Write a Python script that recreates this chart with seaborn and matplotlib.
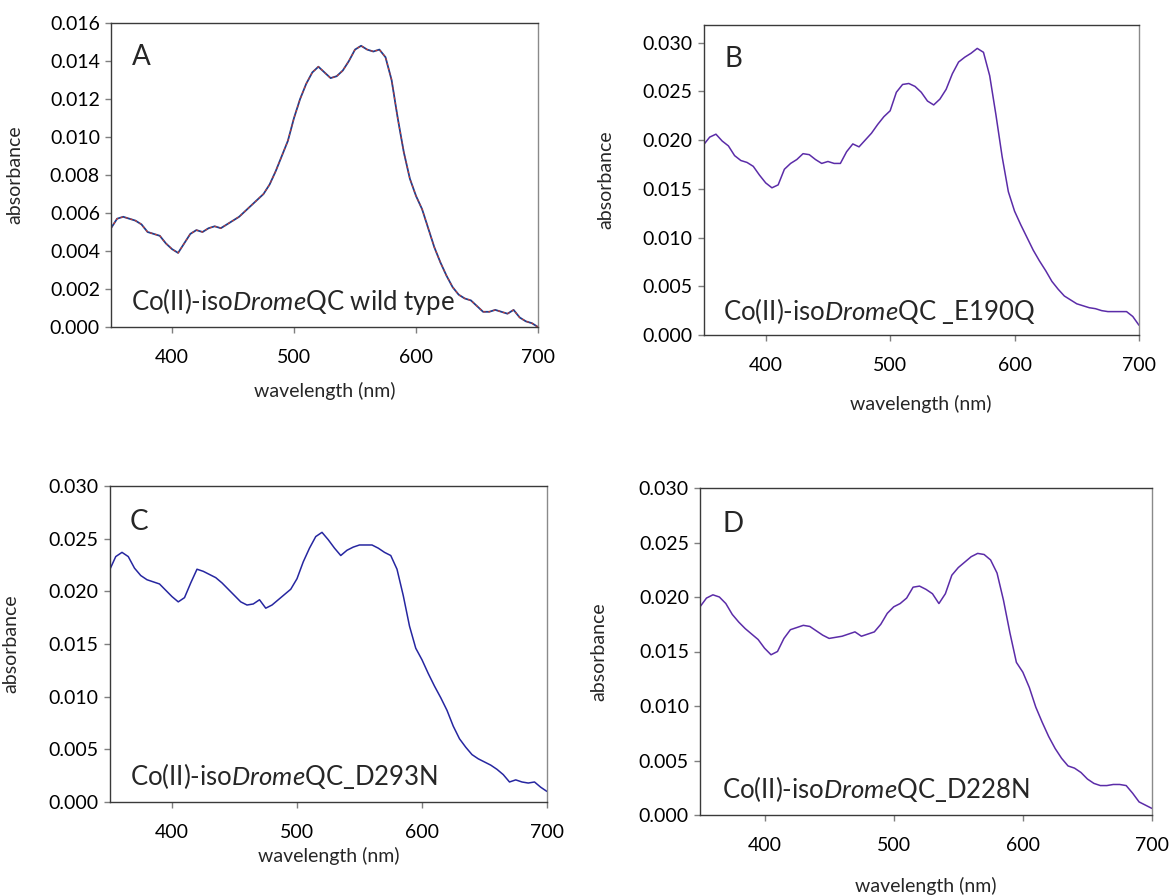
import matplotlib
matplotlib.use("Agg")
import matplotlib.pyplot as plt
import pandas as pd
import seaborn as sns

# wavelength grid (nm), sampled every 5 nm
wavelength = list(range(350, 701, 5))

# A: wild type (two overlaid scans)
abs_wt = [
    0.0052, 0.0057, 0.0058, 0.0057, 0.0056, 0.0054, 0.0050, 0.0049, 0.0048, 0.0044,
    0.0041, 0.0039, 0.0044, 0.0049, 0.0051, 0.0050, 0.0052, 0.0053, 0.0052, 0.0054,
    0.0056, 0.0058, 0.0061, 0.0064, 0.0067, 0.0070, 0.0075, 0.0082, 0.0090, 0.0098,
    0.0110, 0.0120, 0.0128, 0.0134, 0.0137, 0.0134, 0.0131, 0.0132, 0.0135, 0.0140,
    0.0146, 0.0148, 0.0146, 0.0145, 0.0146, 0.0142, 0.0130, 0.0110, 0.0092, 0.0078,
    0.0069, 0.0062, 0.0052, 0.0042, 0.0034, 0.0027, 0.0021, 0.0017, 0.0015, 0.0014,
    0.0011, 0.0008, 0.0008, 0.0009, 0.0008, 0.0007, 0.0009, 0.0005, 0.0003, 0.0002,
    0.0000,
]

# B: E190Q
abs_e190q = [
    0.0195, 0.0203, 0.0206, 0.0199, 0.0194, 0.0184, 0.0179, 0.0177, 0.0173, 0.0164,
    0.0156, 0.0151, 0.0154, 0.0170, 0.0176, 0.0180, 0.0186, 0.0185, 0.0180, 0.0176,
    0.0178, 0.0176, 0.0176, 0.0188, 0.0196, 0.0193, 0.0200, 0.0207, 0.0216, 0.0224,
    0.0230, 0.0249, 0.0257, 0.0258, 0.0255, 0.0249, 0.0240, 0.0236, 0.0242, 0.0252,
    0.0268, 0.0280, 0.0285, 0.0289, 0.0294, 0.0290, 0.0266, 0.0226, 0.0183, 0.0147,
    0.0127, 0.0113, 0.0100, 0.0087, 0.0076, 0.0066, 0.0055, 0.0047, 0.0040, 0.0036,
    0.0032, 0.0030, 0.0028, 0.0027, 0.0025, 0.0024, 0.0024, 0.0024, 0.0024, 0.0019,
    0.0010,
]

# C: D293N
abs_d293n = [
    0.0220, 0.0233, 0.0237, 0.0233, 0.0222, 0.0215, 0.0211, 0.0209, 0.0207, 0.0201,
    0.0195, 0.0190, 0.0194, 0.0208, 0.0221, 0.0219, 0.0216, 0.0213, 0.0208, 0.0202,
    0.0196, 0.0190, 0.0187, 0.0188, 0.0192, 0.0184, 0.0187, 0.0192, 0.0197, 0.0202,
    0.0212, 0.0228, 0.0241, 0.0252, 0.0256, 0.0249, 0.0241, 0.0234, 0.0239, 0.0242,
    0.0244, 0.0244, 0.0244, 0.0241, 0.0237, 0.0234, 0.0221, 0.0196, 0.0167, 0.0146,
    0.0135, 0.0122, 0.0110, 0.0099, 0.0087, 0.0072, 0.0060, 0.0052, 0.0045, 0.0041,
    0.0038, 0.0035, 0.0031, 0.0026, 0.0019, 0.0021, 0.0019, 0.0018, 0.0019, 0.0014,
    0.0010,
]

# D: D228N
abs_d228n = [
    0.0191, 0.0199, 0.0202, 0.0200, 0.0194, 0.0184, 0.0177, 0.0171, 0.0166, 0.0161,
    0.0153, 0.0147, 0.0150, 0.0162, 0.0170, 0.0172, 0.0174, 0.0173, 0.0169, 0.0165,
    0.0162, 0.0163, 0.0164, 0.0166, 0.0168, 0.0164, 0.0166, 0.0168, 0.0175, 0.0185,
    0.0191, 0.0194, 0.0199, 0.0209, 0.0210, 0.0207, 0.0203, 0.0194, 0.0203, 0.0220,
    0.0227, 0.0232, 0.0237, 0.0240, 0.0239, 0.0234, 0.0222, 0.0197, 0.0167, 0.0140,
    0.0131, 0.0117, 0.0099, 0.0085, 0.0072, 0.0061, 0.0052, 0.0045, 0.0043, 0.0039,
    0.0033, 0.0029, 0.0027, 0.0027, 0.0028, 0.0028, 0.0027, 0.0020, 0.0012, 0.0009,
    0.0006,
]

panel_letters = ["A", "B", "C", "D"]
panel_labels = [
    r"Co(II)-iso$\mathit{Drome}$QC wild type",
    r"Co(II)-iso$\mathit{Drome}$QC _E190Q",
    r"Co(II)-iso$\mathit{Drome}$QC_D293N",
    r"Co(II)-iso$\mathit{Drome}$QC_D228N",
]
x_ticks = [400, 500, 600, 700]

sns.set_theme(style="ticks")
plt.rcParams["font.family"] = ["Lato", "DejaVu Sans"]
plt.rcParams["mathtext.fontset"] = "custom"
plt.rcParams["mathtext.rm"] = "Lato"
plt.rcParams["mathtext.it"] = "Lato:italic"

W, H = 1173, 896
fig = plt.figure(figsize=(W / 100, H / 100), dpi=100)


def add_panel(left, right, top, bottom):
    return fig.add_axes([left / W, (H - bottom) / H, (right - left) / W, (bottom - top) / H])


# pixel boxes of the four plot areas
ax_a = add_panel(111, 538, 23, 327)
ax_b = add_panel(703.5, 1139, 25, 335)
ax_c = add_panel(109.5, 547, 486, 802)
ax_d = add_panel(700, 1152, 488, 815)

sns.lineplot(x=wavelength, y=abs_wt, ax=ax_a, color="#1f3f8f", lw=1.3)
sns.lineplot(x=wavelength, y=abs_wt, ax=ax_a, color="#d23a2a", lw=0.8, linestyle=(0, (2, 2.5)))
sns.lineplot(x=wavelength, y=abs_e190q, ax=ax_b, color="#5b2ca8", lw=1.1)
sns.lineplot(x=wavelength, y=abs_d293n, ax=ax_c, color="#2626a0", lw=1.1)
sns.lineplot(x=wavelength, y=abs_d228n, ax=ax_d, color="#5b2ca8", lw=1.1)

ylims = [0.016, 0.0318, 0.030, 0.030]
ysteps = [0.002, 0.005, 0.005, 0.005]
ytops = [0.016, 0.030, 0.030, 0.030]
xlab_y = [-0.181, -0.194, -0.142, -0.19]
letter_pos = [(0.049, 0.862), (0.049, 0.866), (0.047, 0.861), (0.050, 0.866)]
label_pos = [(0.047, 0.056), (0.045, 0.048), (0.047, 0.054), (0.049, 0.052)]

for i, ax in enumerate([ax_a, ax_b, ax_c, ax_d]):
    ax.set_xlim(350, 700)
    ax.set_ylim(0, ylims[i])
    n = int(round(ytops[i] / ysteps[i]))
    ax.set_yticks([k * ysteps[i] for k in range(n + 1)])
    ax.set_yticklabels([f"{k * ysteps[i]:.3f}" for k in range(n + 1)])
    ax.set_xticks(x_ticks)
    ax.tick_params(axis="both", direction="out", length=4, width=1, color="#7f7f7f",
                   labelsize=14, labelcolor="black")
    ax.tick_params(axis="x", pad=12)
    ax.tick_params(axis="y", pad=4)
    for side in ["left", "bottom", "top"]:
        ax.spines[side].set_color("#3a3a3a")
        ax.spines[side].set_linewidth(1.0)
    ax.spines["right"].set_color("#8a8a8a")
    ax.spines["right"].set_linewidth(1.0)
    ax.set_xlabel("wavelength (nm)", fontsize=14)
    ax.set_ylabel("absorbance", fontsize=14)
    ax.xaxis.set_label_coords(0.5, xlab_y[i])
    ax.yaxis.set_label_coords(-0.205, 0.5)
    ax.text(letter_pos[i][0], letter_pos[i][1], panel_letters[i], transform=ax.transAxes,
            fontsize=20, va="baseline", ha="left")
    ax.text(label_pos[i][0], label_pos[i][1], panel_labels[i], transform=ax.transAxes,
            fontsize=18.5, va="baseline", ha="left")

fig.savefig("out.png", dpi=100)
